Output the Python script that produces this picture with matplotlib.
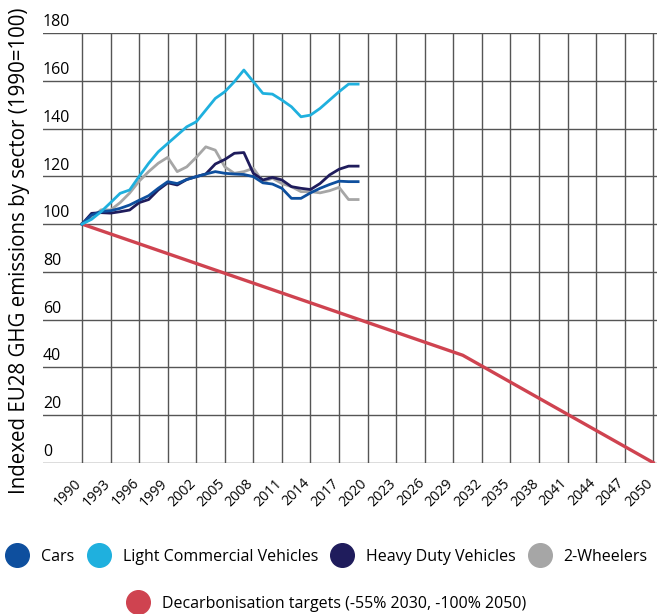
import numpy as np
import matplotlib
matplotlib.use('Agg')
import matplotlib.pyplot as plt
import matplotlib.transforms as mtransforms
from matplotlib.lines import Line2D

plt.rcParams['font.family'] = ['Open Sans', 'DejaVu Sans']

years = list(range(1990, 2020))
cars = [100, 103.8, 105.2, 105.6, 106.6, 108, 110, 111.9, 115, 117.8,
        117, 118.7, 119.9, 121, 122, 121.3, 121, 120.8, 119.9, 117.3,
        116.8, 115, 110.8, 110.8, 113.1, 115, 116.6, 118, 117.8, 117.8]
lcv = [100, 102, 105.2, 109, 112.9, 114.3, 120, 125.5, 130.3, 133.8,
       137.3, 140.8, 142.9, 147.8, 152.7, 155.5, 159.7, 164.6, 159.7, 154.8,
       154.5, 152, 149.2, 145, 145.7, 148.5, 152, 155.5, 158.7, 158.7]
hdv = [100, 104.5, 104.8, 104.6, 105.2, 105.9, 109, 110.3, 114.3, 117.3,
       116.4, 118.7, 119.9, 121, 125.2, 127.1, 129.7, 130, 121.3, 118.5,
       119.6, 118.5, 115.7, 115, 114.5, 117, 120.6, 123, 124.3, 124.3]
wheelers = [100, 102.4, 106, 105.9, 109, 113, 118, 122, 125.5, 128,
            122, 124, 128, 132.4, 131, 124, 121.3, 122, 123.4, 117.8,
            119.2, 117, 115.7, 113.6, 113.6, 113.1, 114, 115.4, 110.3, 110.3]

target_years = [1990, 2030, 2050]
target_vals = [100, 45, 0]

ytick_vals = [0, 20, 40, 60, 80, 100, 120, 140, 160, 180]
xtick_years = list(range(1990, 2051, 3))

c_cars = '#0e4f9e'
c_lcv = '#1fb0de'
c_hdv = '#1f1c5c'
c_wh = '#a6a6a6'
c_red = '#cf4350'

fig = plt.figure(figsize=(6.57, 6.14), dpi=100)
ax = fig.add_axes([43/657, 1-462.6/614, 614/657, 429.3/614])

ax.set_xlim(1985.9, 2050.4)
ax.set_ylim(0, 180)

ax.plot(target_years, target_vals, color=c_red, lw=2.4, zorder=3)
ax.plot(years, wheelers, color=c_wh, lw=2, zorder=4)
ax.plot(years, hdv, color=c_hdv, lw=2, zorder=5)
ax.plot(years, cars, color=c_cars, lw=2, zorder=6)
ax.plot(years, lcv, color=c_lcv, lw=2, zorder=7)

ax.set_xticks(xtick_years)
ax.set_xticklabels([])
ax.set_yticks(ytick_vals)
ax.set_yticklabels([])
ax.tick_params(length=0)
ax.grid(True, color='#555555', lw=1)
ax.set_axisbelow(True)
for s in ax.spines.values():
    s.set_visible(False)

# x tick labels, rotated, hanging below the 0 line
xlab_trans = ax.get_xaxis_transform() + mtransforms.ScaledTranslation(0, -21/100, fig.dpi_scale_trans)
for y in xtick_years:
    ax.text(y, 0, str(y), transform=xlab_trans, rotation=45, ha='right', va='baseline',
            rotation_mode='anchor', fontsize=10.2, clip_on=False)

# y tick labels sit on top of the grid lines
trans = mtransforms.blended_transform_factory(ax.transAxes, ax.transData)
for v in ytick_vals:
    ax.text(0.0, v + 1.2, str(v), transform=trans, ha='left', va='bottom', fontsize=11.5)

fig.text(20/657, 1-251/614, 'Indexed EU28 GHG emissions by sector (1990=100)',
         rotation=90, ha='center', va='center', fontsize=14.8)

h1 = [Line2D([], [], ls='none', marker='o', ms=17, color=c) for c in [c_cars, c_lcv, c_hdv, c_wh]]
l1 = ['Cars', 'Light Commercial Vehicles', 'Heavy Duty Vehicles', '2-Wheelers']
fig.legend(h1, l1, loc='center', bbox_to_anchor=(0.5, 1-557/614), ncol=4, frameon=False,
           fontsize=11.5, handlelength=1.0, handletextpad=1.0, columnspacing=1.0,
           borderaxespad=0, borderpad=0)
h2 = [Line2D([], [], ls='none', marker='o', ms=17, color=c_red)]
fig.legend(h2, ['Decarbonisation targets (-55% 2030, -100% 2050)'], loc='center',
           bbox_to_anchor=(0.5, 1-604/614), frameon=False, fontsize=11.5,
           handlelength=1.0, handletextpad=1.0, borderaxespad=0, borderpad=0)

fig.savefig('out.png', dpi=100)
